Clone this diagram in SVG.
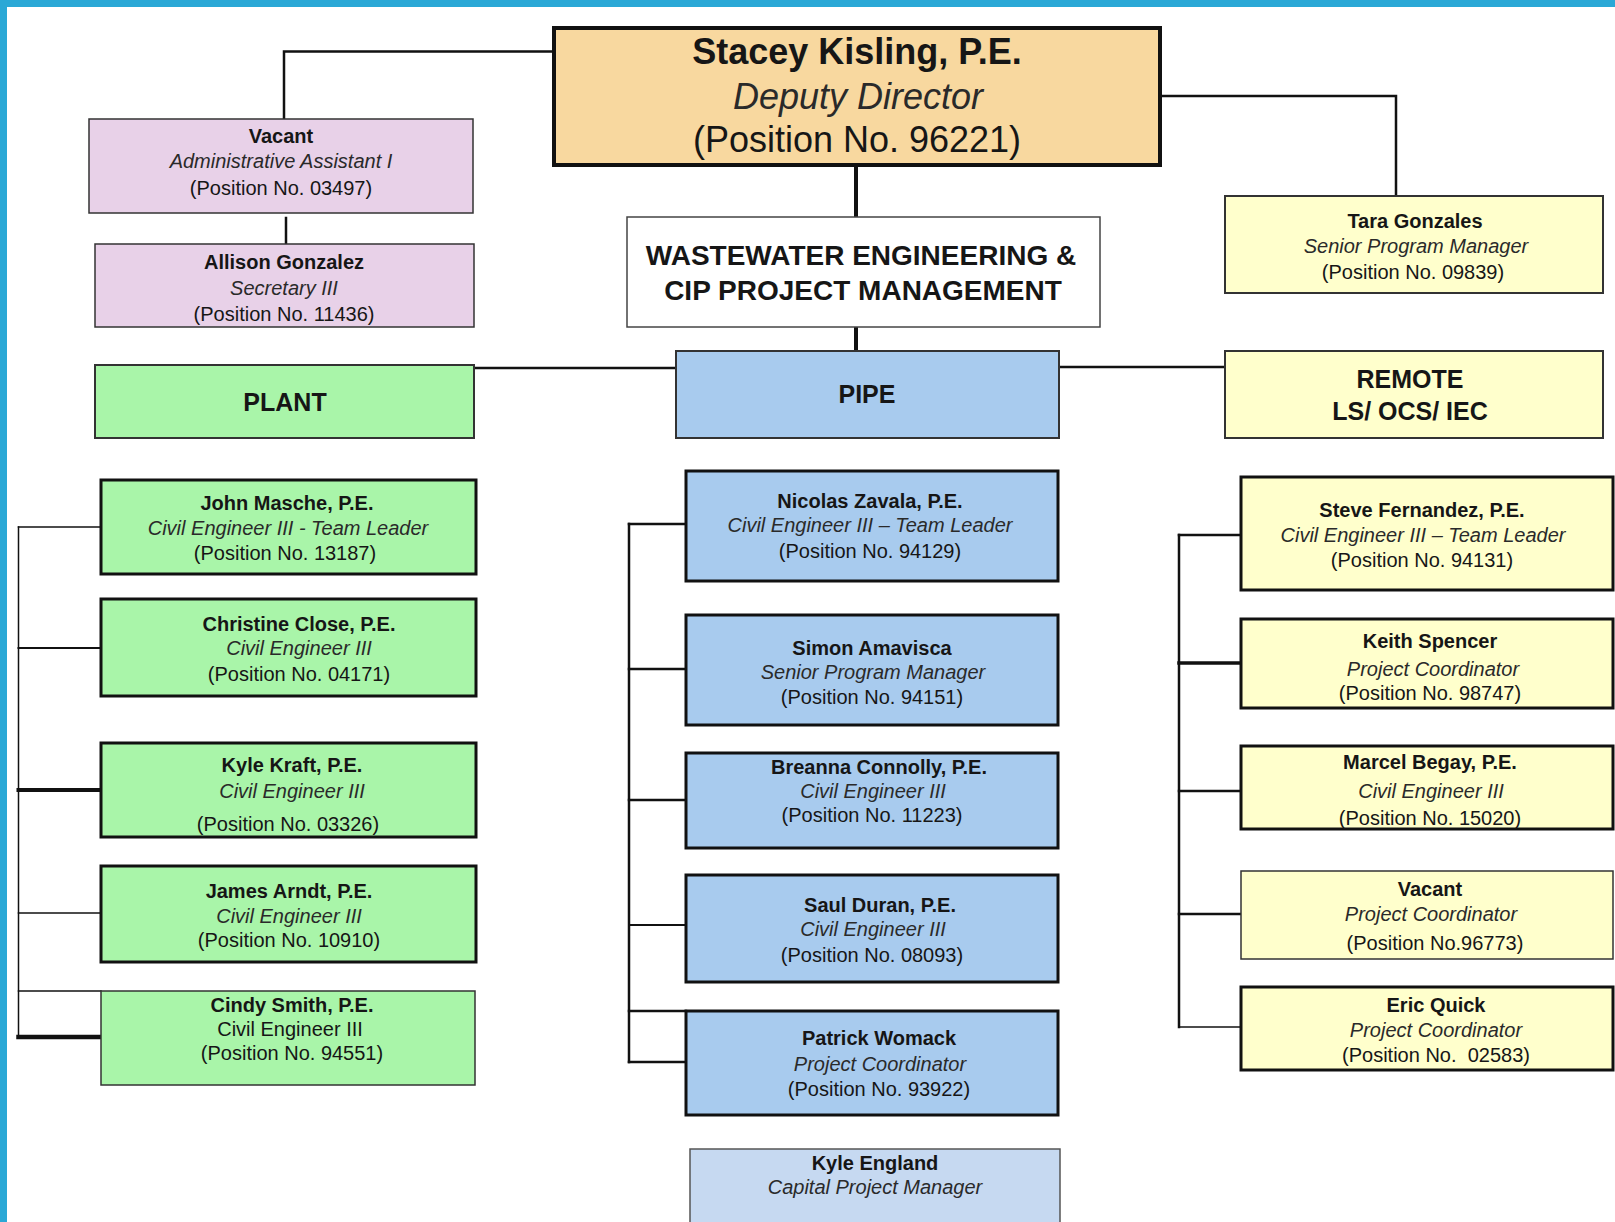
<svg xmlns="http://www.w3.org/2000/svg" width="1615" height="1222" viewBox="0 0 1615 1222">
<style>
text{font-family:"Liberation Sans",Arial,sans-serif;fill:#161616;text-anchor:middle;font-size:20px}
.b{font-weight:bold}
.i{font-style:italic;fill:#2a2a2a}
.big{font-size:36px}
.hd{font-size:28px;font-weight:bold}
.sec{font-size:25px;font-weight:bold}
.thick{stroke:#111;stroke-width:3}
.thin{stroke:#333;stroke-width:1.5}
.c{fill:none;stroke:#111;stroke-linecap:square}
.green{fill:#A9F5A9}
.blue{fill:#A8CBEE}
.lblue{fill:#C6D9F1}
.yel{fill:#FFFFCC}
.pink{fill:#E8D1E8}
.tan{fill:#F8D89F}
</style>
<rect x="0" y="0" width="1615" height="1222" fill="#ffffff"/>
<rect x="0" y="0" width="1615" height="7" fill="#2AA8D6"/>
<rect x="0" y="0" width="7" height="1222" fill="#2AA8D6"/>

<g id="connectors">
<path class="c" stroke-width="2.5" d="M554 51.5 H284 V119"/>
<path class="c" stroke-width="2.5" d="M286 218 V244"/>
<path class="c" stroke-width="2.5" d="M1160 96 H1396 V196"/>
<path class="c" stroke-width="4" d="M856 165 V217"/>
<path class="c" stroke-width="4" d="M856 327 V351"/>
<path class="c" stroke-width="2.5" d="M474 368 H676"/>
<path class="c" stroke-width="2.5" d="M1059 367 H1225"/>
<path class="c" stroke-width="1.5" d="M18.5 527 V1038"/>
<path class="c" stroke-width="1.5" d="M18.5 527 H101"/>
<path class="c" stroke-width="2" d="M18.5 648 H101"/>
<path class="c" stroke-width="4" d="M18.5 790 H101"/>
<path class="c" stroke-width="1.5" d="M18.5 913 H101"/>
<path class="c" stroke-width="1.5" d="M18.5 991 H101"/>
<path class="c" stroke-width="4.5" d="M18.5 1037 H101"/>
<path class="c" stroke-width="2.5" d="M629 524 V1062"/>
<path class="c" stroke-width="2.5" d="M629 524 H686"/>
<path class="c" stroke-width="2.5" d="M629 669 H686"/>
<path class="c" stroke-width="2.5" d="M629 800 H686"/>
<path class="c" stroke-width="2" d="M629 925 H686"/>
<path class="c" stroke-width="2.5" d="M629 1011 H686"/>
<path class="c" stroke-width="2.5" d="M629 1062 H686"/>
<path class="c" stroke-width="2.5" d="M1179 535 V1027"/>
<path class="c" stroke-width="2.5" d="M1179 535 H1241"/>
<path class="c" stroke-width="3.5" d="M1179 663 H1241"/>
<path class="c" stroke-width="2.5" d="M1179 791 H1241"/>
<path class="c" stroke-width="2.5" d="M1179 914 H1241"/>
<path class="c" stroke-width="1.5" d="M1179 1027 H1241"/>
</g>

<g id="stacey">
<rect class="tan" x="554" y="28" width="606" height="137" stroke="#111" stroke-width="4"/>
<text class="b big" x="857" y="64">Stacey Kisling, P.E.</text>
<text class="i big" x="858" y="108.5">Deputy Director</text>
<text class="big" x="857" y="151.5">(Position No. 96221)</text>
</g>

<g id="vacant-admin">
<rect class="pink thin" x="89" y="119" width="384" height="94"/>
<text class="b" x="281" y="143">Vacant</text>
<text class="i" x="281" y="168">Administrative Assistant I</text>
<text x="281" y="195">(Position No. 03497)</text>
</g>

<g id="allison">
<rect class="pink thin" x="95" y="244" width="379" height="83"/>
<text class="b" x="284" y="269">Allison Gonzalez</text>
<text class="i" x="284" y="295">Secretary III</text>
<text x="284" y="321">(Position No. 11436)</text>
</g>

<g id="wastewater">
<rect x="627" y="217" width="473" height="110" fill="#ffffff" stroke="#444" stroke-width="1.5"/>
<text class="hd" x="861" y="265">WASTEWATER ENGINEERING &amp;</text>
<text class="hd" x="863" y="300">CIP PROJECT MANAGEMENT</text>
</g>

<g id="tara">
<rect class="yel" x="1225" y="196" width="378" height="97" stroke="#333" stroke-width="2"/>
<text class="b" x="1415" y="228">Tara Gonzales</text>
<text class="i" x="1416" y="253">Senior Program Manager</text>
<text x="1413" y="279">(Position No. 09839)</text>
</g>

<g id="plant">
<rect class="green" x="95" y="365" width="379" height="73" stroke="#333" stroke-width="2"/>
<text class="sec" x="285" y="411">PLANT</text>
</g>

<g id="pipe">
<rect class="blue" x="676" y="351" width="383" height="87" stroke="#333" stroke-width="2"/>
<text class="sec" x="867" y="403">PIPE</text>
</g>

<g id="remote">
<rect class="yel" x="1225" y="351" width="378" height="87" stroke="#333" stroke-width="2"/>
<text class="sec" x="1410" y="388">REMOTE</text>
<text class="sec" x="1410" y="420">LS/ OCS/ IEC</text>
</g>

<g id="john">
<rect class="green thick" x="101" y="480" width="375" height="94"/>
<text class="b" x="287" y="510">John Masche, P.E.</text>
<text class="i" x="288" y="535">Civil Engineer III  - Team Leader</text>
<text x="285" y="560">(Position No. 13187)</text>
</g>

<g id="christine">
<rect class="green thick" x="101" y="599" width="375" height="97"/>
<text class="b" x="299" y="631">Christine Close, P.E.</text>
<text class="i" x="299" y="655">Civil Engineer III</text>
<text x="299" y="681">(Position No. 04171)</text>
</g>

<g id="kyle-kraft">
<rect class="green thick" x="101" y="743" width="375" height="94"/>
<text class="b" x="292" y="772">Kyle Kraft, P.E.</text>
<text class="i" x="292" y="798">Civil Engineer III</text>
<text x="288" y="831">(Position No. 03326)</text>
</g>

<g id="james">
<rect class="green thick" x="101" y="866" width="375" height="96"/>
<text class="b" x="289" y="898">James Arndt, P.E.</text>
<text class="i" x="289" y="923">Civil Engineer III</text>
<text x="289" y="947">(Position No. 10910)</text>
</g>

<g id="cindy">
<rect class="green thin" x="101" y="991" width="374" height="94"/>
<text class="b" x="292" y="1012">Cindy Smith, P.E.</text>
<text x="290" y="1036">Civil Engineer III</text>
<text x="292" y="1060">(Position No. 94551)</text>
</g>

<g id="nicolas">
<rect class="blue thick" x="686" y="471" width="372" height="110"/>
<text class="b" x="870" y="508">Nicolas Zavala, P.E.</text>
<text class="i" x="870" y="532">Civil Engineer III – Team Leader</text>
<text x="870" y="558">(Position No. 94129)</text>
</g>

<g id="simon">
<rect class="blue thick" x="686" y="615" width="372" height="110"/>
<text class="b" x="872" y="655">Simon Amavisca</text>
<text class="i" x="873" y="679">Senior Program Manager</text>
<text x="872" y="704">(Position No. 94151)</text>
</g>

<g id="breanna">
<rect class="blue thick" x="686" y="753" width="372" height="95"/>
<text class="b" x="879" y="774">Breanna Connolly, P.E.</text>
<text class="i" x="873" y="798">Civil Engineer III</text>
<text x="872" y="822">(Position No. 11223)</text>
</g>

<g id="saul">
<rect class="blue thick" x="686" y="875" width="372" height="107"/>
<text class="b" x="880" y="912">Saul Duran, P.E.</text>
<text class="i" x="873" y="936">Civil Engineer III</text>
<text x="872" y="962">(Position No. 08093)</text>
</g>

<g id="patrick">
<rect class="blue thick" x="686" y="1011" width="372" height="104"/>
<text class="b" x="879" y="1045">Patrick Womack</text>
<text class="i" x="880" y="1071">Project Coordinator</text>
<text x="879" y="1096">(Position No. 93922)</text>
</g>

<g id="kyle-england">
<rect class="lblue" x="690" y="1149" width="370" height="90" stroke="#555" stroke-width="1.5"/>
<text class="b" x="875" y="1170">Kyle England</text>
<text class="i" x="875" y="1194">Capital Project Manager</text>
</g>

<g id="steve">
<rect class="yel thick" x="1241" y="477" width="372" height="113"/>
<text class="b" x="1422" y="517">Steve Fernandez, P.E.</text>
<text class="i" x="1423" y="542">Civil Engineer III – Team Leader</text>
<text x="1422" y="567">(Position No. 94131)</text>
</g>

<g id="keith">
<rect class="yel thick" x="1241" y="619" width="372" height="89"/>
<text class="b" x="1430" y="648">Keith Spencer</text>
<text class="i" x="1433" y="676">Project Coordinator</text>
<text x="1430" y="700">(Position No. 98747)</text>
</g>

<g id="marcel">
<rect class="yel thick" x="1241" y="746" width="372" height="83"/>
<text class="b" x="1430" y="769">Marcel Begay, P.E.</text>
<text class="i" x="1431" y="798">Civil Engineer III</text>
<text x="1430" y="825">(Position No. 15020)</text>
</g>

<g id="vacant-pc">
<rect class="yel thin" x="1241" y="871" width="372" height="88"/>
<text class="b" x="1430" y="896">Vacant</text>
<text class="i" x="1431" y="921">Project Coordinator</text>
<text x="1435" y="950">(Position No.96773)</text>
</g>

<g id="eric">
<rect class="yel thick" x="1241" y="987" width="372" height="83"/>
<text class="b" x="1436" y="1012">Eric Quick</text>
<text class="i" x="1436" y="1037">Project Coordinator</text>
<text x="1436" y="1062" xml:space="preserve">(Position No.  02583)</text>
</g>
</svg>
